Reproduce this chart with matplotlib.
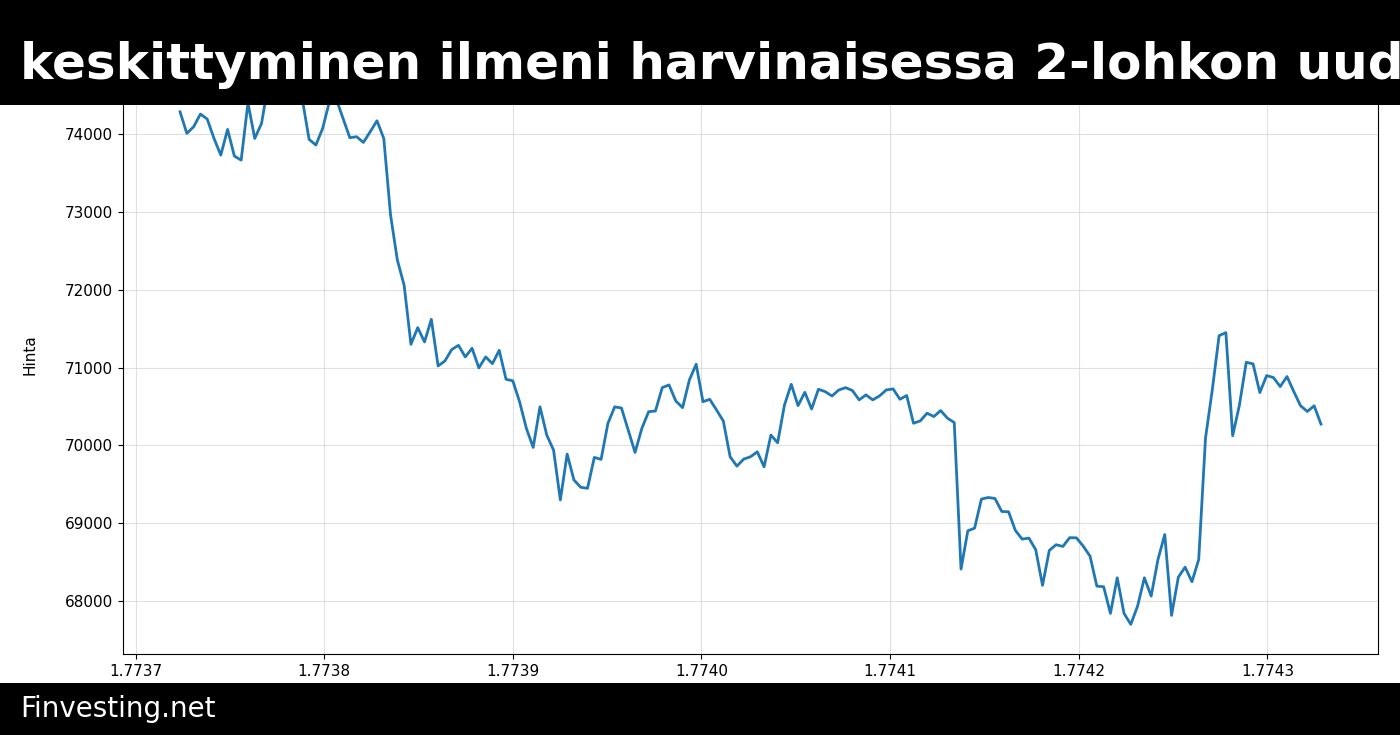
import matplotlib
matplotlib.use("Agg")
import matplotlib.pyplot as plt
from matplotlib.patches import Rectangle
from matplotlib.ticker import MultipleLocator
import numpy as np

# hourly prices, one week (timestamps in seconds)
start_ts = 1773723600
step_s = 3600
price = [
    74286, 74009, 74094, 74257, 74193, 73944, 73730, 74060, 73717, 73666,
    74400, 73944, 74137, 74650, 75000, 75300, 75050, 74850, 74450, 73932,
    73859, 74073, 74420, 74450, 74201, 73953, 73966, 73893, 74030, 74171,
    73944, 72959, 72381, 72056, 71299, 71513, 71329, 71620, 71021, 71085,
    71231, 71286, 71137, 71248, 70996, 71137, 71051, 71222, 70850, 70829,
    70560, 70218, 69974, 70496, 70132, 69940, 69299, 69889, 69556, 69462,
    69449, 69846, 69821, 70282, 70496, 70480, 70197, 69910, 70219, 70433,
    70442, 70742, 70777, 70571, 70485, 70841, 71043, 70562, 70592, 70455,
    70313, 69854, 69734, 69824, 69854, 69918, 69725, 70133, 70034, 70519,
    70785, 70511, 70682, 70468, 70721, 70691, 70635, 70712, 70742, 70706,
    70585, 70649, 70585, 70636, 70713, 70726, 70593, 70641, 70285, 70315,
    70414, 70371, 70448, 70350, 70294, 68411, 68903, 68937, 69310, 69331,
    69318, 69151, 69147, 68908, 68796, 68809, 68659, 68202, 68651, 68724,
    68702, 68815, 68812, 68705, 68577, 68192, 68184, 67842, 68299, 67842,
    67701, 67936, 68299, 68064, 68534, 68855, 67816, 68308, 68436, 68248,
    68534, 70094, 70714, 71410, 71449, 70124, 70521, 71068, 71047, 70679,
    70897, 70872, 70756, 70885, 70692, 70509, 70436, 70509, 70274,
]
timestamps = start_ts + step_s * np.arange(len(price))

title = "keskittyminen ilmeni harvinaisessa 2-lohkon uudelleenjärjestelyssä"
footer = "Finvesting.net"

fig = plt.figure(figsize=(14, 7.35), dpi=100)
ax = fig.add_axes([123 / 1400, 81 / 735, 1255 / 1400, 639 / 735])

ax.plot(timestamps, price, color="#1f77b4", lw=2)
ax.set_ylim(67320, 75530)
ax.ticklabel_format(axis="x", useOffset=False)
ax.xaxis.set_major_locator(MultipleLocator(1e5))
ax.grid(True, color="#cccccc", alpha=0.6, lw=0.8)
ax.tick_params(labelsize=11)
ax.set_ylabel("Hinta", fontsize=11)
ax.yaxis.set_label_coords(-0.068, 0.468)

# black header and footer bars
fig.patches.append(Rectangle((0, 1 - 105 / 735), 1, 105 / 735, transform=fig.transFigure,
                             facecolor="black", edgecolor="none", zorder=10))
fig.patches.append(Rectangle((0, 0), 1, 52 / 735, transform=fig.transFigure,
                             facecolor="black", edgecolor="none", zorder=10))
fig.text(20 / 1400, 1 - 79 / 735, title, color="white", fontsize=36, fontweight="bold",
         va="baseline", ha="left", zorder=11)
fig.text(20 / 1400, 18 / 735, footer, color="white", fontsize=20,
         va="baseline", ha="left", zorder=11)

fig.savefig("out.png", dpi=100)
